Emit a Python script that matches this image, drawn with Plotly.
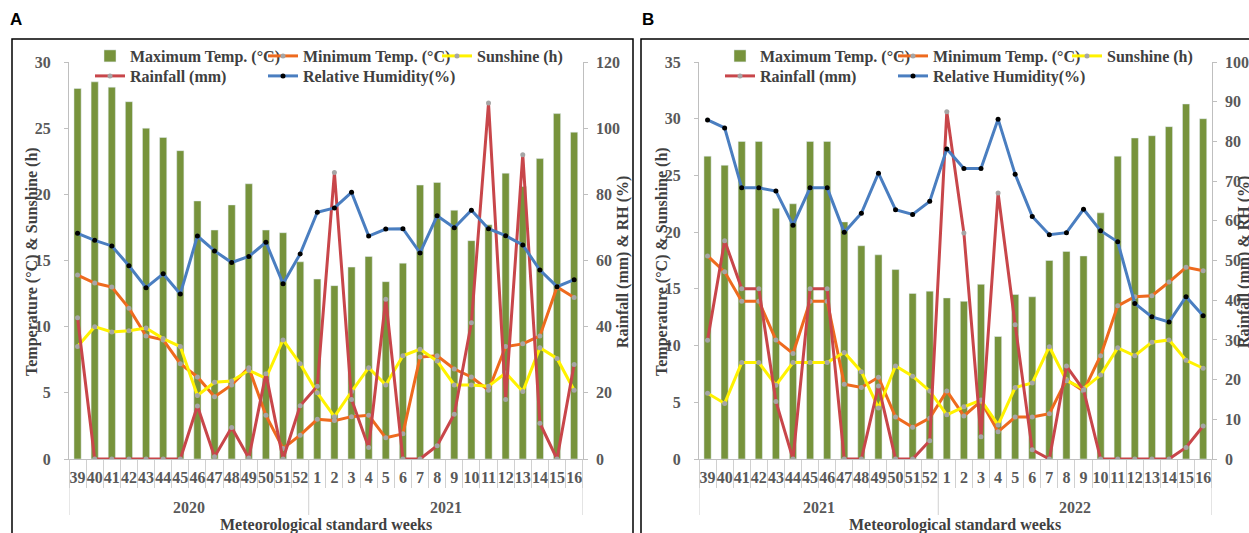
import plotly.graph_objects as go

# ---------------- data ----------------
weeks = ["39","40","41","42","43","44","45","46","47","48","49","50","51","52",
         "1","2","3","4","5","6","7","8","9","10","11","12","13","14","15","16"]
years_a = ["2020"] * 14 + ["2021"] * 16
years_b = ["2021"] * 14 + ["2022"] * 16

# Panel A (2020-21)
tmax_a = [28.0, 28.5, 28.1, 27.0, 25.0, 24.3, 23.3, 19.5, 17.3, 19.2, 20.8, 17.3, 17.1, 14.9,
          13.6, 13.1, 14.5, 15.3, 13.4, 14.8, 20.7, 20.9, 18.8, 16.5, 17.7, 21.6, 20.6, 22.7, 26.1, 24.7]
tmin_a = [13.9, 13.3, 13.0, 11.4, 9.3, 9.0, 7.2, 6.2, 4.7, 5.6, 6.9, 3.3, 0.8, 1.8,
          3.0, 2.9, 3.2, 3.3, 1.6, 1.9, 7.7, 7.8, 6.8, 6.2, 5.2, 8.5, 8.7, 9.3, 13.0, 12.2]
sun_a = [8.5, 10.0, 9.6, 9.7, 9.9, 9.1, 8.5, 4.8, 5.8, 5.9, 6.7, 6.1, 9.0, 7.2,
         5.0, 3.2, 5.1, 6.9, 5.6, 7.8, 8.3, 7.4, 5.6, 5.6, 5.5, 6.5, 5.1, 8.4, 7.6, 5.2]
rain_a = [42.7, 0, 0, 0, 0, 0, 0, 16.0, 0.7, 9.5, 0.3, 25.8, 0, 16.1,
          22.0, 86.6, 18.0, 3.5, 48.3, 0, 0, 4.0, 13.5, 41.2, 107.6, 18.0, 92.0, 10.8, 0, 28.6]
rh_a = [68.2, 66.1, 64.4, 58.4, 51.8, 56.0, 49.9, 67.4, 62.9, 59.4, 61.2, 65.5, 53.0, 62.0,
        74.6, 75.9, 80.6, 67.4, 69.5, 69.6, 62.3, 73.5, 69.9, 75.2, 69.6, 67.5, 64.7, 57.1, 52.1, 54.2]

# Panel B (2021-22)
tmax_b = [26.7, 25.9, 28.0, 28.0, 22.1, 22.5, 28.0, 28.0, 20.9, 18.8, 18.0, 16.7, 14.6, 14.8,
          14.2, 13.9, 15.4, 10.8, 14.5, 14.3, 17.5, 18.3, 17.9, 21.7, 26.7, 28.3, 28.5, 29.3, 31.3, 30.0]
tmin_b = [17.9, 16.5, 13.9, 13.9, 10.5, 9.3, 13.9, 13.9, 6.6, 6.3, 7.2, 3.7, 2.8, 3.6,
          6.0, 3.8, 5.1, 2.4, 3.7, 3.7, 4.0, 7.0, 6.0, 9.1, 13.5, 14.3, 14.4, 15.6, 16.9, 16.6]
sun_b = [5.8, 4.9, 8.5, 8.5, 6.5, 8.5, 8.5, 8.5, 9.4, 7.7, 4.5, 8.2, 7.3, 6.0,
         3.9, 4.6, 5.2, 3.0, 6.3, 6.7, 9.9, 6.9, 6.2, 7.4, 9.8, 9.1, 10.3, 10.5, 8.7, 8.0]
rain_b = [29.9, 55.0, 42.9, 42.9, 14.5, 0, 42.9, 42.9, 0, 0, 18.4, 0, 0, 4.6,
          87.5, 56.9, 5.6, 67.0, 33.8, 2.3, 0, 23.4, 17.4, 0, 0, 0, 0, 0, 2.9, 8.3]
rh_b = [85.4, 83.4, 68.3, 68.3, 67.5, 58.9, 68.3, 68.3, 57.1, 61.9, 72.0, 62.8, 61.6, 64.9,
        78.1, 73.2, 73.2, 85.6, 71.7, 61.1, 56.5, 57.0, 62.9, 57.5, 54.7, 39.2, 35.8, 34.5, 40.9, 36.1]

names = ["Maximum Temp. (°C)", "Minimum Temp. (°C)", "Sunshine (h)",
         "Rainfall (mm)", "Relative Humidity(%)"]

# ---------------- style ----------------
W, H = 1249, 533
SERIF = "Liberation Serif"
GREEN = "#77933C"
ORANGE = "#EE6A1E"
YELLOW = "#FFF200"
RED = "#C8464A"
BLUE = "#4A7EC0"
GREYM = "#A5A5A5"
AXC = "#BFBFBF"
TICKC = "#595959"
SEPC = "#D0D0D0"

def px_x(v):
    return v / W

def px_y(v):
    return 1 - v / H

fig = go.Figure()

leg_pos = [(130, 56), (303, 56), (477, 56), (130, 76), (303, 76)]

def add_panel(tmax, tmin, sun, rain, rh, xa, ya, ya2, legs):
    x = weeks
    fig.add_trace(go.Bar(x=x, y=tmax, name=names[0], marker_color=GREEN,
                         xaxis=xa, yaxis=ya, legend=legs[0]))
    fig.add_trace(go.Scatter(x=x, y=tmin, name=names[1], mode="lines+markers",
                             line=dict(color=ORANGE, width=3),
                             marker=dict(color=GREYM, size=5),
                             xaxis=xa, yaxis=ya, legend=legs[1]))
    fig.add_trace(go.Scatter(x=x, y=sun, name=names[2], mode="lines+markers",
                             line=dict(color=YELLOW, width=3),
                             marker=dict(color=GREYM, size=5),
                             xaxis=xa, yaxis=ya, legend=legs[2]))
    fig.add_trace(go.Scatter(x=x, y=rain, name=names[3], mode="lines+markers",
                             line=dict(color=RED, width=3),
                             marker=dict(color=GREYM, size=5),
                             xaxis=xa, yaxis=ya2, legend=legs[3]))
    fig.add_trace(go.Scatter(x=x, y=rh, name=names[4], mode="lines+markers",
                             line=dict(color=BLUE, width=3),
                             marker=dict(color="black", size=5),
                             xaxis=xa, yaxis=ya2, legend=legs[4]))

legs_a = ["legend", "legend2", "legend3", "legend4", "legend5"]
legs_b = ["legend6", "legend7", "legend8", "legend9", "legend10"]
add_panel(tmax_a, tmin_a, sun_a, rain_a, rh_a, "x", "y", "y2", legs_a)
add_panel(tmax_b, tmin_b, sun_b, rain_b, rh_b, "x2", "y3", "y4", legs_b)

tickfont = dict(family=SERIF, size=16, color=TICKC, weight="bold")
ydom = [px_y(459), px_y(62)]

def xaxis(dom, anchor):
    return dict(type="category", domain=dom, anchor=anchor,
                categoryorder="array", categoryarray=weeks,
                range=[-0.5, len(weeks) - 0.5],
                showline=True, linecolor=AXC, linewidth=1,
                ticks="outside", tickson="boundaries", ticklen=28, tickcolor=SEPC,
                tickfont=tickfont, tickangle=0, dtick=1, tick0=0,
                ticklabelstandoff=4,
                showgrid=False, zeroline=False, automargin=False)

def yaxis(rng, dt, anchor, side="left", overlay=None, dom=None, standoff=8):
    d = dict(range=rng, dtick=dt, tick0=0, anchor=anchor, side=side,
             showline=True, linecolor=AXC, linewidth=1,
             ticks="outside", ticklen=4, tickcolor=AXC,
             tickfont=tickfont, showgrid=False, zeroline=False, automargin=False,
             ticklabelstandoff=standoff)
    if overlay:
        d["overlaying"] = overlay
    if dom:
        d["domain"] = dom
    return d

xa_dom = [px_x(69), px_x(582.7)]
xb_dom = [px_x(699), px_x(1211.7)]

legfont = dict(family=SERIF, size=16, color="#404040", weight="bold")

def leg(xpx, ypx):
    return dict(orientation="h", x=px_x(xpx - 40), y=px_y(ypx), xanchor="left", yanchor="middle",
                font=legfont, bgcolor="rgba(0,0,0,0)", itemwidth=30)

layout_legends = {}
for i, (tx, ty) in enumerate(leg_pos):
    layout_legends[legs_a[i]] = leg(tx, ty)
    layout_legends[legs_b[i]] = leg(tx + 630, ty)

fig.update_layout(
    width=W, height=H,
    margin=dict(l=0, r=0, t=0, b=0, autoexpand=False),
    paper_bgcolor="white", plot_bgcolor="white",
    bargap=0.58,
    showlegend=True,
    xaxis=xaxis(xa_dom, "y"),
    yaxis=yaxis([0, 30], 5, "x", dom=ydom, standoff=10),
    yaxis2=yaxis([0, 120], 20, "x", side="right", overlay="y", standoff=5),
    xaxis2=xaxis(xb_dom, "y3"),
    yaxis3=yaxis([0, 35], 5, "x2", dom=ydom, standoff=10),
    yaxis4=yaxis([0, 100], 10, "x2", side="right", overlay="y3", standoff=5),
    **layout_legends,
)

# panel borders
for x0, x1 in [(12, 633), (641, 1300)]:
    fig.add_shape(type="rect", xref="paper", yref="paper",
                  x0=px_x(x0), x1=px_x(x1), y0=px_y(600), y1=px_y(39),
                  line=dict(color="black", width=1.5), fillcolor="rgba(0,0,0,0)", layer="below")

titlefont = dict(family=SERIF, size=16, color="#404040", weight="bold")
ann = []

# year group labels and group dividers, derived from the year lists
for years, xr in [(years_a, "x"), (years_b, "x2")]:
    groups = []
    start = 0
    for i in range(1, len(years) + 1):
        if i == len(years) or years[i] != years[start]:
            groups.append((years[start], start, i - 1))
            start = i
    bounds = [-0.5] + [g[2] + 0.5 for g in groups]
    for b in bounds:
        fig.add_shape(type="line", xref=xr, yref="paper", x0=b, x1=b,
                      y0=px_y(459), y1=px_y(515), line=dict(color=SEPC, width=1))
    for label, i0, i1 in groups:
        ann.append(dict(text=label, x=(i0 + i1) / 2, y=px_y(507), xref=xr, yref="paper",
                        xanchor="center", yanchor="middle", showarrow=False, font=tickfont))

for lab, xp in [("A", 16), ("B", 648)]:
    ann.append(dict(text=lab, x=px_x(xp), y=px_y(19), xref="paper", yref="paper",
                    xanchor="center", yanchor="middle", showarrow=False,
                    font=dict(family="Liberation Sans", size=17, color="black", weight="bold")))
for xp in [32, 662]:
    ann.append(dict(text="Temperature (°C) & Sunshine (h)", x=px_x(xp), y=px_y(262),
                    xref="paper", yref="paper", xanchor="center", yanchor="middle",
                    showarrow=False, textangle=-90, font=titlefont))
for xp in [623, 1244]:
    ann.append(dict(text="Rainfall (mm) & RH (%)", x=px_x(xp), y=px_y(262),
                    xref="paper", yref="paper", xanchor="center", yanchor="middle",
                    showarrow=False, textangle=-90, font=titlefont))
for xp in [326, 955]:
    ann.append(dict(text="Meteorological standard weeks", x=px_x(xp), y=px_y(525),
                    xref="paper", yref="paper", xanchor="center", yanchor="middle",
                    showarrow=False, font=titlefont))
fig.update_layout(annotations=ann)

fig.write_html("out.html", config={"displayModeBar": False},
               post_script="document.body.style.margin='0px';")
